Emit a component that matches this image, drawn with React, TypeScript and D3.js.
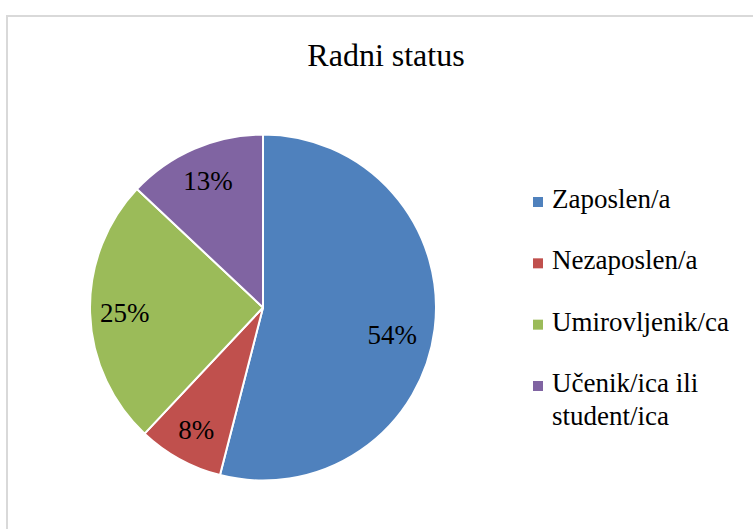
import * as d3 from "d3"

const categories = ["Zaposlen/a", "Nezaposlen/a", "Umirovljenik/ca", "Učenik/ica ili student/ica"]
const values = [54, 8, 25, 13]
const colors = ["#4F81BD", "#C0504D", "#9BBB59", "#8064A2"]
// legend text split over lines
const legendLines = [["Zaposlen/a"], ["Nezaposlen/a"], ["Umirovljenik/ca"], ["Učenik/ica ili", "student/ica"]]

const serif = "\"Liberation Serif\", \"DejaVu Serif\", serif"

export default function App() {
  const width = 753
  const height = 529
  const cx = 263
  const cy = 307.5
  const radius = 173

  const data = categories.map((c, i) => ({ name: c, value: values[i], color: colors[i] }))
  const pie = d3.pie<any>().sort(null).value((d) => d.value)
  const arcs = pie(data)
  const arc = d3.arc<any>().innerRadius(0).outerRadius(radius)
  const labelArc = d3.arc<any>().innerRadius(radius * 0.8).outerRadius(radius * 0.8)
  const total = d3.sum(values)
  // Excel puts the big slice's label a bit lower than its centroid
  const nudge = (i: number) => (i === 0 ? [-8, 10] : [0, 1])

  // legend layout
  const legendX = 533
  const legendY = d3.scalePoint<number>().domain(d3.range(categories.length)).range([208, 392])

  return (
    <svg width={width} height={height} style={{ position: "absolute", left: 0, top: 0, fontFamily: serif }}>
      <rect x={0} y={0} width={width} height={height} fill="#fff" />
      <rect x={7} y={16} width={900} height={700} fill="#fff" stroke="#d9d9d9" strokeWidth={2} />
      <text x={386} y={66} textAnchor="middle" fontSize={32} fill="#000">
        Radni status
      </text>
      <g transform={`translate(${cx},${cy})`}>
        {arcs.map((a, i) => (
          <path key={i} d={arc(a) || ""} fill={a.data.color} stroke="#fff" strokeWidth={2} strokeLinejoin="round" />
        ))}
        {arcs.map((a, i) => {
          const [x, y] = labelArc.centroid(a)
          const [dx, dy] = nudge(i)
          return (
            <text key={i} x={x + dx} y={y + 9 + dy} textAnchor="middle" fontSize={27} fill="#000">
              {Math.round((a.data.value / total) * 100)}%
            </text>
          )
        })}
      </g>
      <g>
        {legendLines.map((lines, i) => {
          const y = legendY(i) as number
          return (
            <g key={i}>
              <rect x={legendX} y={y - 11} width={10} height={10} fill={colors[i]} />
              {lines.map((l, j) => (
                <text key={j} x={legendX + 19} y={y + j * 33} fontSize={27} fill="#000">
                  {l}
                </text>
              ))}
            </g>
          )
        })}
      </g>
    </svg>
  )
}
